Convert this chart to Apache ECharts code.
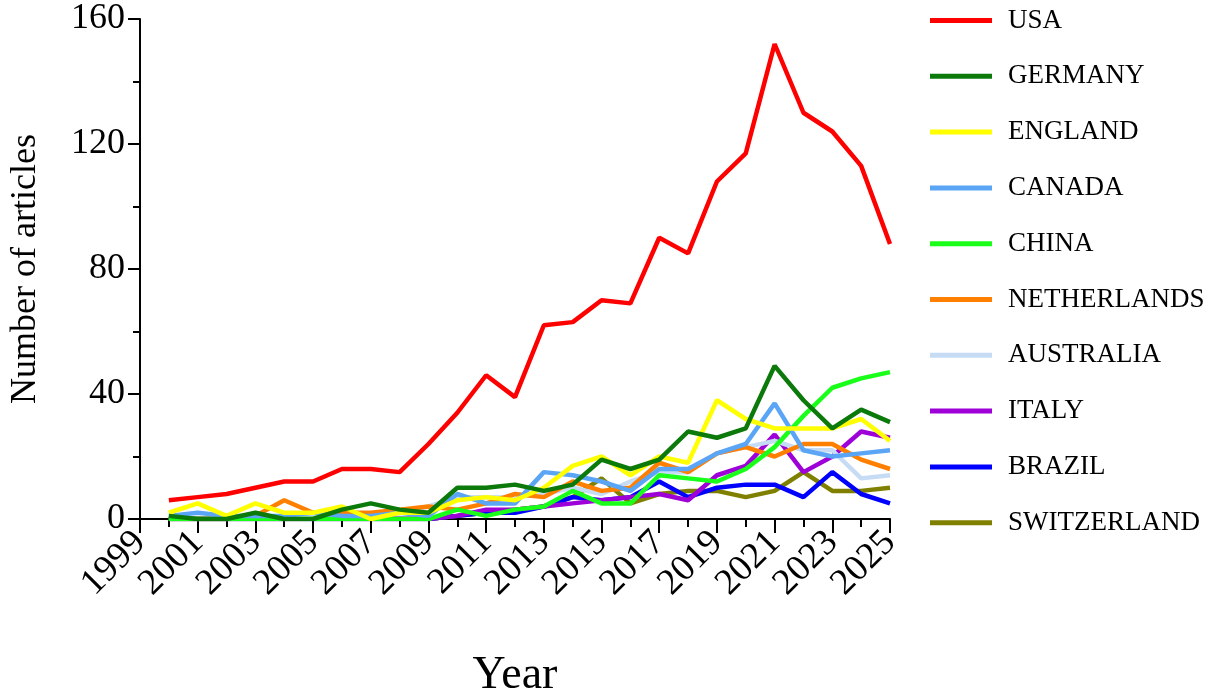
<!DOCTYPE html>
<html><head><meta charset="utf-8">
<script src="https://cdn.jsdelivr.net/npm/echarts@6/dist/echarts.min.js"></script>
<style>html,body{margin:0;padding:0;background:#fff}#c{width:1213px;height:700px}</style>
</head><body><div id="c"></div>
<script>
const years = ['1999','2000','2001','2002','2003','2004','2005','2006','2007','2008','2009','2010','2011','2012','2013','2014','2015','2016','2017','2018','2019','2020','2021','2022','2023','2024','2025'];
// values for 2000..2025
const usa         = [6,7,8,10,12,12,16,16,15,24,34,46,39,62,63,70,69,90,85,108,117,152,130,124,113,88];
const germany     = [1,0,0,2,0,0,3,5,3,2,10,10,11,9,11,19,16,19,28,26,29,49,38,29,35,31];
const england     = [2,5,1,5,2,2,4,0,2,2,6,7,6,10,17,20,14,20,18,38,32,29,29,29,32,25];
const canada      = [1,2,1,1,1,2,1,1,2,1,8,5,5,15,14,12,9,16,16,21,24,37,22,20,21,22];
const china       = [0,0,0,0,0,0,0,0,0,0,3,1,3,4,9,5,5,14,13,12,16,23,33,42,45,47];
const netherlands = [0,0,0,1,6,2,2,2,3,4,3,5,8,7,12,9,10,18,15,21,23,20,24,24,19,16];
const australia   = [0,0,0,0,0,1,1,1,2,4,7,7,7,8,10,8,12,15,15,21,23,25,22,22,13,14];
const italy       = [0,0,0,0,0,0,0,0,0,0,1,3,3,4,5,6,7,8,6,14,17,27,15,20,28,26];
const brazil      = [0,0,0,0,0,0,0,0,0,0,1,2,2,4,7,6,7,12,7,10,11,11,7,15,8,5];
const switzerland = [0,0,0,0,0,0,0,0,0,0,1,2,3,4,7,13,5,8,9,9,7,9,15,9,9,10];

const names  = ['USA','GERMANY','ENGLAND','CANADA','CHINA','NETHERLANDS','AUSTRALIA','ITALY','BRAZIL','SWITZERLAND'];
const values = [usa,germany,england,canada,china,netherlands,australia,italy,brazil,switzerland];
const colors = ['#ff0000','#0b7a0b','#ffff00','#5aa5f5','#19ff19','#ff8000','#c6dcf5','#9e00d8','#0000ff','#808000'];

const FONT = '"Liberation Serif","Times New Roman",serif';
const chart = echarts.init(document.getElementById('c'));
chart.setOption({
  animation:false,
  backgroundColor:'#fff',
  grid:{left:140,right:323,top:19,bottom:181,containLabel:false,outerBoundsMode:'none'},
  legend:{
    orient:'vertical', left:930, top:7, padding:0,
    itemWidth:62, itemHeight:5, itemGap:28.8, icon:'rect',
    textStyle:{fontFamily:FONT,fontSize:27,color:'#000',lineHeight:27,padding:[0,0,0,11]},
    data:names
  },
  xAxis:[{
    type:'category', data:years, boundaryGap:false, position:'bottom',
    name:'Year', nameLocation:'middle', nameGap:134,
    nameTextStyle:{fontFamily:FONT,fontSize:46,color:'#000'},
    axisLine:{lineStyle:{color:'#000',width:2}},
    axisTick:{interval:0,length:8,lineStyle:{color:'#000',width:2}},
    axisLabel:{interval:1,rotate:45,fontFamily:FONT,fontSize:37,color:'#000',margin:18},
    splitLine:{show:false}
  },{
    type:'category', data:years, boundaryGap:false, position:'bottom',
    axisLine:{show:false},
    axisTick:{interval:1,length:14,lineStyle:{color:'#000',width:2}},
    axisLabel:{show:false},
    splitLine:{show:false}
  }],
  yAxis:{
    type:'value', min:0, max:160, interval:40,
    name:'Number of articles', nameLocation:'middle', nameGap:96, nameRotate:90,
    nameTextStyle:{fontFamily:FONT,fontSize:36,color:'#000'},
    axisLine:{show:true,lineStyle:{color:'#000',width:2}},
    axisTick:{show:true,length:12,lineStyle:{color:'#000',width:2}},
    minorTick:{show:true,splitNumber:2,length:7,lineStyle:{color:'#000',width:2}},
    axisLabel:{fontFamily:FONT,fontSize:36,color:'#000',margin:15},
    splitLine:{show:false}
  },
  series:names.map((n,i)=>({
    name:n, type:'line', xAxisIndex:0, showSymbol:false, symbol:'none',
    z:20-i, color:colors[i],
    lineStyle:{width:4.5,color:colors[i]},
    data:[null].concat(values[i])
  }))
});
</script></body></html>
